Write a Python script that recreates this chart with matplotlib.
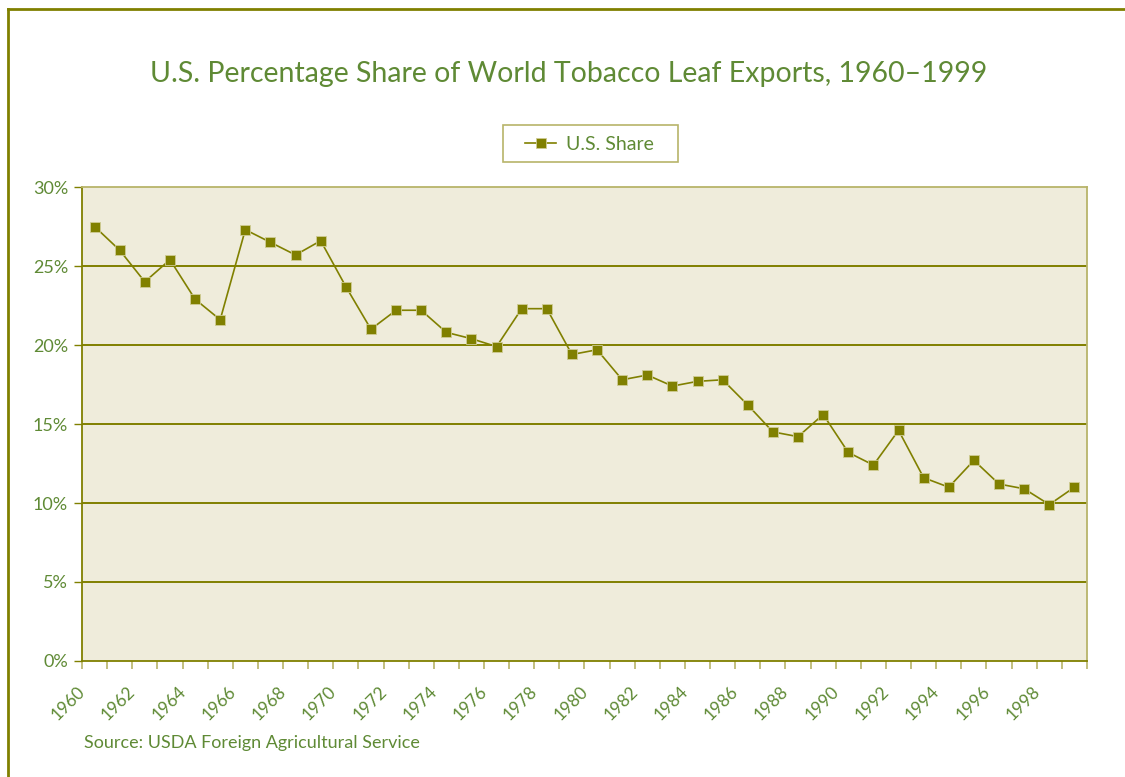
import matplotlib.pyplot as plt
from matplotlib.lines import Line2D
from matplotlib.patches import Rectangle
import numpy as np

plt.rcParams['font.family'] = ['Lato', 'DejaVu Sans']

# US share of world tobacco leaf exports (%)
years = list(range(1960, 2000))
us_share = [27.5, 26.0, 24.0, 25.4, 22.9, 21.6, 27.3, 26.5, 25.7, 26.6,
            23.7, 21.0, 22.2, 22.2, 20.8, 20.4, 19.9, 22.3, 22.3, 19.4,
            19.7, 17.8, 18.1, 17.4, 17.7, 17.8, 16.2, 14.5, 14.2, 15.6,
            13.2, 12.4, 14.6, 11.6, 11.0, 12.7, 11.2, 10.9, 9.9, 11.0]
y_ticks = [0, 5, 10, 15, 20, 25, 30]

olive = '#808000'
olive_light = '#b8b46a'
text_green = '#5f8a35'
panel = '#efecdb'
marker_edge = '#cfcc94'

fig = plt.figure(figsize=(11.25, 7.77), dpi=100)
ax = fig.add_axes([0.0729, 0.1493, 0.8933, 0.6100])
ax.set_facecolor(panel)

x = np.arange(len(years))
ax.plot(x, us_share, color=olive, lw=1.2, marker='s', ms=6.8,
        mfc=olive, mec=marker_edge, mew=0.6, zorder=3)

ax.set_xlim(-0.5, len(years) - 0.5)
ax.set_ylim(0, 30)

# horizontal gridlines inside the panel
for v in y_ticks[1:-1]:
    ax.axhline(v, color=olive, lw=1.4, zorder=1)

ax.set_yticks(y_ticks)
ax.set_yticklabels([f'{v}%' for v in y_ticks])
ax.set_xticks(np.arange(-0.5, len(years), 1))
ax.set_xticklabels([])
ax.tick_params(axis='y', length=6, width=1, color=olive, labelcolor=text_green,
               labelsize=13, pad=4)
ax.tick_params(axis='x', length=6, width=1.2, color=olive_light)

# year labels every other category, right end tucked under the point
for i, yr in enumerate(years):
    if i % 2 == 0:
        ax.text(i - 0.25, -0.047, str(yr), rotation=45, ha='right', va='top',
                color=text_green, fontsize=12.5,
                transform=ax.get_xaxis_transform())

for side in ['left', 'bottom']:
    ax.spines[side].set_color(olive)
    ax.spines[side].set_linewidth(1.3)
for side in ['top', 'right']:
    ax.spines[side].set_color(olive_light)
    ax.spines[side].set_linewidth(1.3)

fig.text(0.505, 0.905, 'U.S. Percentage Share of World Tobacco Leaf Exports, 1960\u20131999',
         ha='center', va='center', color=text_green, fontsize=20.5)

# legend: box drawn separately so its side padding can be wider
fig.add_artist(Rectangle((503 / 1125, 1 - 162 / 777), 175 / 1125, 37 / 777,
                         transform=fig.transFigure, facecolor='white',
                         edgecolor=olive_light, lw=1.2))
handle = Line2D([], [], color=olive, lw=1.2, marker='s', ms=6.8, mfc=olive,
                mec=marker_edge, mew=0.6)
leg = fig.legend([handle], ['U.S. Share'], loc='center', bbox_to_anchor=(0.524, 0.8145),
                 frameon=False, fontsize=14, handlelength=1.6, handletextpad=0.5,
                 labelcolor=text_green)

fig.text(0.0747, 0.044, 'Source: USDA Foreign Agricultural Service',
         ha='left', va='center', color=text_green, fontsize=13)

# outer frame: top and left edges only
fig.add_artist(Line2D([0.0075, 1.0], [0.9885, 0.9885], transform=fig.transFigure,
                      color=olive, lw=2))
fig.add_artist(Line2D([0.0075, 0.0075], [0.0, 0.9885], transform=fig.transFigure,
                      color=olive, lw=2))

fig.savefig('out.png', dpi=100)
